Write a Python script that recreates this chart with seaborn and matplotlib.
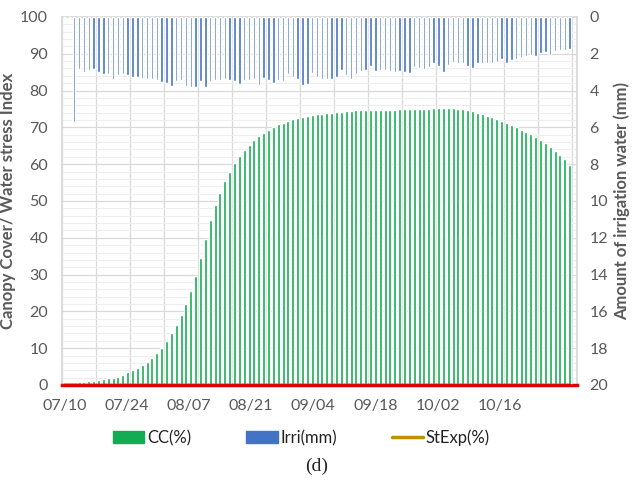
import numpy as np
import pandas as pd
import matplotlib
matplotlib.use("Agg")
import matplotlib.pyplot as plt
from matplotlib.patches import Patch
from matplotlib.lines import Line2D
import seaborn as sns

# daily series (one value per bar)
cc = [0, 0, 0.4, 0.8, 0.9, 1.1, 1.2, 1.3, 1.7, 1.9, 2.0, 2.3, 2.7, 3.4, 4.0, 4.7,
      5.4, 6.3, 7.4, 8.6, 10.0, 11.9, 14.0, 16.3, 19.0, 22.1, 25.5, 29.7, 34.4,
      39.8, 44.8, 48.8, 52.3, 55.4, 58.0, 60.2, 62.2, 63.9, 65.2, 66.6, 67.7,
      68.6, 69.4, 70.1, 70.8, 71.3, 71.8, 72.2, 72.5, 72.8, 73.0, 73.3, 73.5,
      73.7, 73.9, 74.0, 74.2, 74.3, 74.4, 74.5, 74.6, 74.6, 74.7, 74.7, 74.7,
      74.8, 74.8, 74.8, 74.8, 74.9, 74.9, 74.9, 75.0, 75.0, 75.1, 75.1, 75.2,
      75.2, 75.2, 75.2, 75.2, 75.1, 75.0, 74.8, 74.4, 74.0, 73.6, 73.2, 72.8,
      72.3, 71.8, 71.3, 70.7, 70.1, 69.4, 68.8, 68.2, 67.5, 66.7, 65.8, 64.8,
      63.7, 62.6, 61.3, 59.8]

irri = [0, 0, 5.7, 2.85, 3.0, 2.9, 2.85, 3.0, 3.1, 3.1, 3.35, 3.15, 3.1, 3.15,
        3.25, 3.25, 3.3, 3.35, 3.35, 3.4, 3.55, 3.6, 3.75, 3.5, 3.45, 3.75, 3.8,
        3.8, 3.5, 3.8, 3.5, 3.45, 3.45, 3.35, 3.45, 3.5, 3.65, 3.4, 3.45, 3.35,
        3.7, 3.3, 3.4, 3.6, 3.4, 3.5, 3.1, 3.28, 3.38, 3.72, 3.62, 3.03, 3.25,
        3.38, 3.38, 3.35, 3.25, 2.9, 3.18, 3.38, 3.08, 2.93, 2.9, 2.68, 2.96,
        2.9, 2.87, 2.95, 3.0, 2.92, 3.0, 3.03, 2.7, 2.77, 2.82, 2.72, 2.52, 2.65,
        2.97, 2.6, 2.45, 2.5, 2.48, 2.68, 2.75, 2.5, 2.5, 2.5, 2.52, 2.45, 2.3,
        2.5, 2.34, 2.28, 2.18, 2.12, 2.07, 2.1, 1.95, 1.9, 2.05, 1.85, 1.8, 1.8,
        1.72]

wsi = [0] * len(cc)     # water stress index (red line)
stexp = [0] * len(cc)   # StExp(%)

date_labels = ["07/10", "07/24", "08/07", "08/21", "09/04", "09/18", "10/02", "10/16"]

df = pd.DataFrame({"day": np.arange(len(cc)), "cc": cc, "irri": irri,
                   "wsi": wsi, "stexp": stexp})

sns.set_theme(style="white")
plt.rcParams["font.family"] = ["Lato", "DejaVu Sans"]

green = "#12ad52"
blue = "#4472c4"
gold = "#bf9000"
grey = "#595959"

fig = plt.figure(figsize=(6.33, 4.92), dpi=100)
ax = fig.add_axes([0.098, 0.2175, 0.8135, 0.748])

sns.barplot(data=df, x="day", y="cc", native_scale=True, width=0.62,
            color=green, saturation=1, ax=ax, zorder=3)
sns.lineplot(data=df, x="day", y="stexp", color=gold, lw=2.5, ax=ax, zorder=4)
sns.lineplot(data=df, x="day", y="wsi", color="#e00000", lw=2.5, ax=ax, zorder=5)

ax.set_xlim(-0.5, 105.5)
ax.set_ylim(0, 100)
ax.set_yticks(np.arange(0, 101, 10))
ax.set_yticks(np.arange(0, 101, 2), minor=True)
ax.set_xticks(np.arange(-0.5, 106, 7), minor=True)
ax.set_xticks(np.arange(len(date_labels)) * 12.8)
ax.set_xticklabels(date_labels)
ax.grid(True, which="major", axis="y", color="#d9d9d9", lw=0.9, zorder=0)
ax.grid(True, which="minor", axis="y", color="#eeeeee", lw=0.8, zorder=0)
ax.grid(True, which="minor", axis="x", color="#d9d9d9", lw=0.9, zorder=0)
ax.set_axisbelow(True)
ax.tick_params(axis="both", which="both", length=0, labelsize=11.5, colors=grey)
ax.tick_params(axis="x", pad=10)
ax.tick_params(axis="y", pad=10)
ax.set_xlabel("")
ax.set_ylabel("Canopy Cover/ Water stress Index", fontsize=12, fontweight="bold",
              color=grey, labelpad=3)
for s in ["top", "left", "right"]:
    ax.spines[s].set_color("#d9d9d9")
ax.spines["bottom"].set_color("#e00000")
ax.spines["bottom"].set_linewidth(2.5)

ax2 = ax.twinx()
sns.barplot(data=df, x="day", y="irri", native_scale=True, width=0.5,
            color=blue, saturation=1, ax=ax2, zorder=3)
ax2.set_xlim(-0.5, 105.5)
ax2.set_ylim(20, 0)
ax2.set_yticks(np.arange(0, 21, 2))
ax2.tick_params(axis="y", length=0, labelsize=11.5, colors=grey, pad=9)
ax2.set_ylabel("Amount of irrigation water (mm)", fontsize=12, fontweight="bold",
               color=grey, labelpad=4)
for s in ax2.spines.values():
    s.set_visible(False)

handles = [Patch(color=green), Patch(color=blue), Line2D([0], [0], color=gold, lw=2.5)]
fig.legend(handles, ["CC(%)", "Irri(mm)", "StExp(%)"], loc="center",
           bbox_to_anchor=(0.476, 0.11), ncol=3, frameon=False, fontsize=12,
           handlelength=1.9, handleheight=0.7, handletextpad=0.15,
           columnspacing=3.3, labelcolor="#222222")

fig.text(0.5, 0.052, "(d)", ha="center", va="center", fontsize=14,
         family=["Liberation Serif", "DejaVu Serif"])

fig.savefig("out.png", dpi=100)
